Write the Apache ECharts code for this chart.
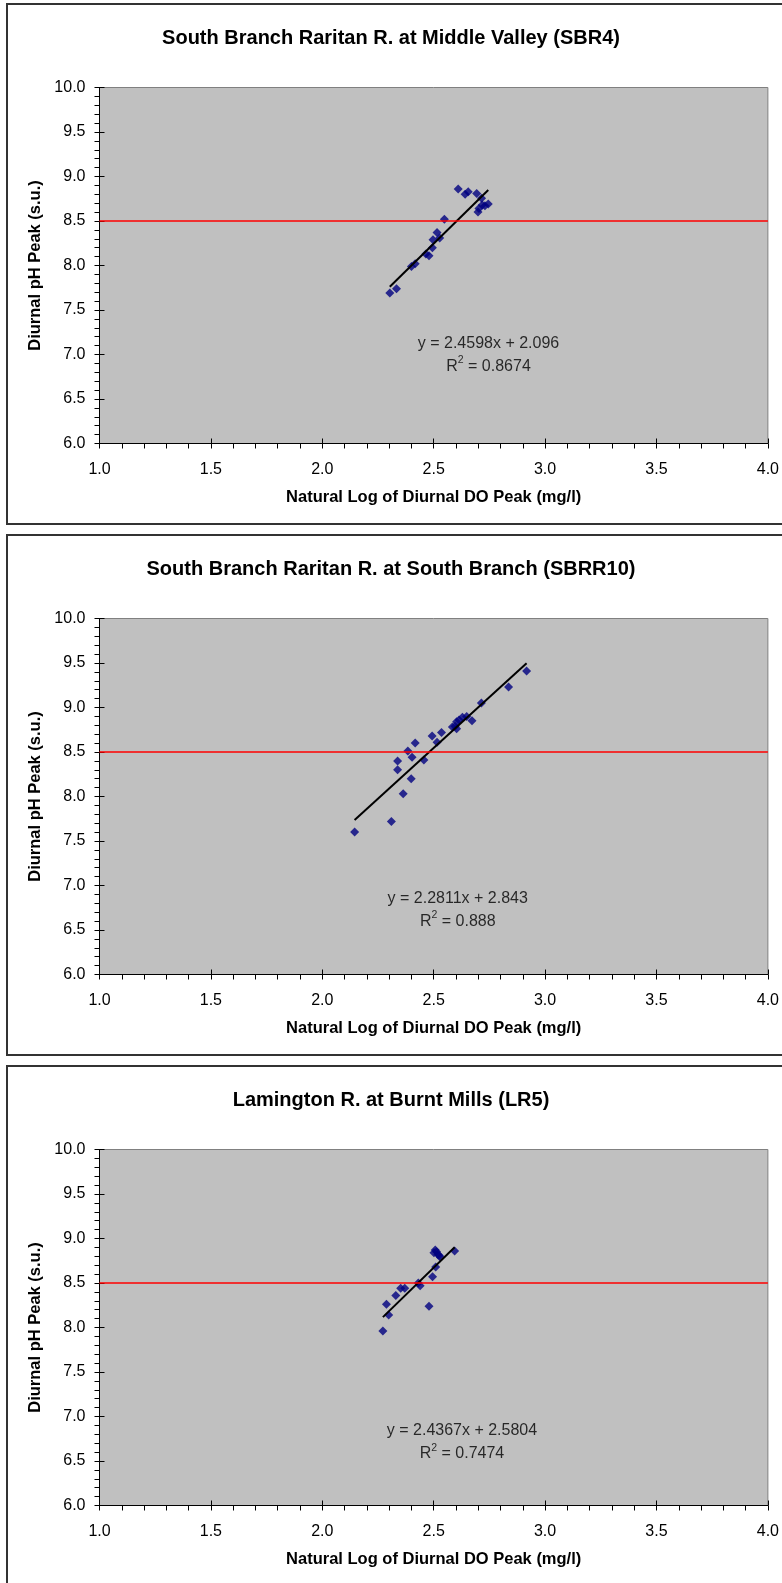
<!DOCTYPE html>
<html><head><meta charset="utf-8">
<script src="https://cdn.jsdelivr.net/npm/echarts@6/dist/echarts.min.js"></script>
<style>html,body{margin:0;padding:0;background:#fff}#c{width:782px;height:1583px}</style>
</head><body><div id="c"></div>
<script>
// ---------- data ----------
const titles = [
  'South Branch Raritan R. at Middle Valley (SBR4)',
  'South Branch Raritan R. at South Branch (SBRR10)',
  'Lamington R. at Burnt Mills (LR5)'
];
const xAxisTitle = 'Natural Log of Diurnal DO Peak (mg/l)';
const yAxisTitle = 'Diurnal pH Peak (s.u.)';

const sbr4DO = [2.61,2.641,2.655,2.693,2.715,2.718,2.730,2.745,2.703,2.699,2.548,2.515,2.527,2.497,2.494,2.465,2.479,2.400,2.417,2.333,2.303];
const sbr4PH = [8.86,8.80,8.83,8.81,8.755,8.68,8.67,8.69,8.64,8.60,8.52,8.37,8.31,8.29,8.20,8.13,8.11,7.99,8.02,7.74,7.69];

const sbrr10DO = [2.917,2.836,2.714,2.672,2.648,2.629,2.614,2.603,2.596,2.603,2.584,2.535,2.493,2.515,2.417,2.384,2.403,2.456,2.338,2.338,2.399,2.363,2.310,2.145];
const sbrr10PH = [9.41,9.23,9.05,8.85,8.90,8.89,8.86,8.84,8.79,8.76,8.78,8.72,8.68,8.61,8.60,8.51,8.44,8.41,8.40,8.30,8.20,8.03,7.72,7.60];

const lr5DO = [2.594,2.507,2.501,2.513,2.519,2.525,2.530,2.509,2.495,2.431,2.439,2.352,2.370,2.330,2.288,2.479,2.298,2.272];
const lr5PH = [8.86,8.87,8.84,8.85,8.82,8.81,8.79,8.68,8.57,8.50,8.47,8.44,8.44,8.36,8.26,8.24,8.14,7.96];

const slopes = [2.4598, 2.2811, 2.4367];
const interceptLabels = ['2.096', '2.843', '2.5804'];
const rSquaredLabels = ['0.8674', '0.888', '0.7474'];
const standardPH = 8.5;
const xTickLabels = ['1.0','1.5','2.0','2.5','3.0','3.5','4.0'];
const yTickLabels = ['6.0','6.5','7.0','7.5','8.0','8.5','9.0','9.5','10.0'];

// ---------- layout ----------
const FONT = '"Liberation Sans", Arial, sans-serif';
const STEP = 531;
const PLOT_LEFT = 99.5, PLOT_TOP = 87.5, PLOT_W = 669.5, PLOT_H = 356;
const eqAnchor = [[2.746, 6.995], [2.608, 6.727], [2.627, 6.71]];
const panels = [
  {x: sbr4DO, y: sbr4PH},
  {x: sbrr10DO, y: sbrr10PH},
  {x: lr5DO, y: lr5PH}
];

const grid = [], xAxis = [], yAxis = [], series = [], title = [], graphic = [];
panels.forEach((p, i) => {
  const off = i * STEP;
  graphic.push({type: 'rect', shape: {x: 7, y: 4 + off, width: 800, height: 520},
    style: {fill: 'none', stroke: '#333', lineWidth: 2}, silent: true});
  title.push({text: titles[i], left: 'center', top: 23 + off,
    textStyle: {fontFamily: FONT, fontSize: 20, fontWeight: 'bold', color: '#000'}});
  grid.push({left: PLOT_LEFT, top: PLOT_TOP + off, width: PLOT_W, height: PLOT_H,
    show: true, backgroundColor: '#C0C0C0', borderColor: '#808080', borderWidth: 1});
  const xBase = {gridIndex: i, type: 'value', min: 1, max: 4, interval: 0.5, position: 'bottom', splitLine: {show: false}};
  const yBase = {gridIndex: i, type: 'value', min: 6, max: 10, interval: 0.5, position: 'left', splitLine: {show: false}};
  xAxis.push(Object.assign({}, xBase, {
    name: xAxisTitle, nameLocation: 'middle', nameGap: 45,
    nameTextStyle: {fontFamily: FONT, fontSize: 16.5, fontWeight: 'bold', color: '#000'},
    axisLine: {lineStyle: {color: '#000', width: 1}},
    axisTick: {show: true, length: 5, lineStyle: {color: '#000'}},
    minorTick: {show: true, splitNumber: 5, length: 5, lineStyle: {color: '#000'}},
    axisLabel: {fontFamily: FONT, fontSize: 16, color: '#000', margin: 18,
      formatter: v => xTickLabels[Math.round((v - 1) / 0.5)]}
  }));
  xAxis.push(Object.assign({}, xBase, {
    axisLine: {show: false}, axisLabel: {show: false},
    axisTick: {show: true, inside: true, length: 5, lineStyle: {color: '#000'}}
  }));
  yAxis.push(Object.assign({}, yBase, {
    name: yAxisTitle, nameLocation: 'middle', nameGap: 56, nameRotate: 90,
    nameTextStyle: {fontFamily: FONT, fontSize: 16.5, fontWeight: 'bold', color: '#000'},
    axisLine: {lineStyle: {color: '#000', width: 1}},
    axisTick: {show: true, length: 5, lineStyle: {color: '#000'}},
    minorTick: {show: true, splitNumber: 5, length: 5, lineStyle: {color: '#000'}},
    axisLabel: {fontFamily: FONT, fontSize: 16, color: '#000', margin: 14,
      formatter: v => yTickLabels[Math.round((v - 6) / 0.5)]}
  }));
  yAxis.push(Object.assign({}, yBase, {
    axisLine: {show: false}, axisLabel: {show: false},
    axisTick: {show: true, inside: true, length: 5, lineStyle: {color: '#000'}}
  }));
  const xi = 2 * i;
  const pts = p.x.map((v, k) => [v, p.y[k]]);
  series.push({type: 'scatter', xAxisIndex: xi, yAxisIndex: xi, data: pts,
    symbol: 'diamond', symbolSize: 9, itemStyle: {color: '#000080'}, z: 3,
    markLine: {silent: true, symbol: 'none', label: {show: false},
      lineStyle: {color: '#FF0000', width: 1.6, type: 'solid', opacity: 1},
      data: [{yAxis: standardPH}]}});
  const b = parseFloat(interceptLabels[i]);
  const xmin = Math.min(...p.x), xmax = Math.max(...p.x);
  series.push({type: 'line', xAxisIndex: xi, yAxisIndex: xi, symbol: 'none', z: 4,
    data: [[xmin, slopes[i] * xmin + b], [xmax, slopes[i] * xmax + b]],
    lineStyle: {color: '#000', width: 2}});
  series.push({type: 'scatter', xAxisIndex: xi, yAxisIndex: xi, symbolSize: 0, silent: true,
    data: [eqAnchor[i]],
    label: {show: true, position: 'inside',
      formatter: '{a|y = ' + slopes[i] + 'x + ' + interceptLabels[i] + '}\n{a|R}{s|2}{a| = ' + rSquaredLabels[i] + '}',
      rich: {
        a: {fontFamily: FONT, fontSize: 16, color: '#000', lineHeight: 23.4},
        s: {fontFamily: FONT, fontSize: 10.5, color: '#000', lineHeight: 18, verticalAlign: 'top'}
      }}});
});

const chart = echarts.init(document.getElementById('c'), null, {renderer: 'canvas'});
chart.setOption({animation: false, backgroundColor: '#fff', title, grid, xAxis, yAxis, series, graphic});
</script></body></html>
